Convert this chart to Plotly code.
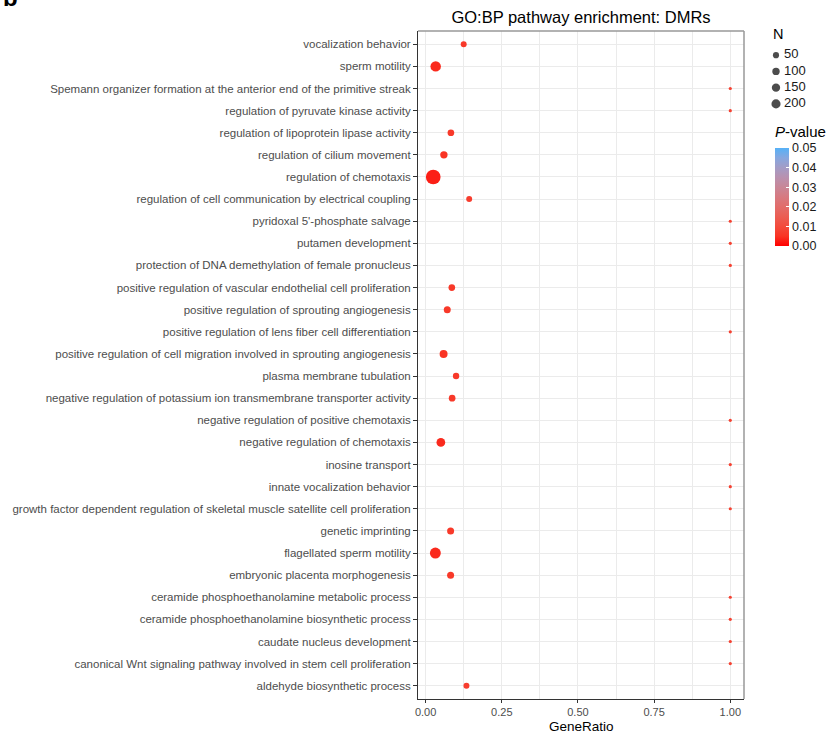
import numpy as np
import plotly.graph_objects as go

# GO:BP terms, listed top to bottom as they appear on the y axis
terms = [
    "vocalization behavior",
    "sperm motility",
    "Spemann organizer formation at the anterior end of the primitive streak",
    "regulation of pyruvate kinase activity",
    "regulation of lipoprotein lipase activity",
    "regulation of cilium movement",
    "regulation of chemotaxis",
    "regulation of cell communication by electrical coupling",
    "pyridoxal 5'-phosphate salvage",
    "putamen development",
    "protection of DNA demethylation of female pronucleus",
    "positive regulation of vascular endothelial cell proliferation",
    "positive regulation of sprouting angiogenesis",
    "positive regulation of lens fiber cell differentiation",
    "positive regulation of cell migration involved in sprouting angiogenesis",
    "plasma membrane tubulation",
    "negative regulation of potassium ion transmembrane transporter activity",
    "negative regulation of positive chemotaxis",
    "negative regulation of chemotaxis",
    "inosine transport",
    "innate vocalization behavior",
    "growth factor dependent regulation of skeletal muscle satellite cell proliferation",
    "genetic imprinting",
    "flagellated sperm motility",
    "embryonic placenta morphogenesis",
    "ceramide phosphoethanolamine metabolic process",
    "ceramide phosphoethanolamine biosynthetic process",
    "caudate nucleus development",
    "canonical Wnt signaling pathway involved in stem cell proliferation",
    "aldehyde biosynthetic process",
]

gene_ratio = [
    0.125, 0.033, 1.0, 1.0, 0.083, 0.060, 0.025, 0.143, 1.0, 1.0,
    1.0, 0.086, 0.071, 1.0, 0.059, 0.100, 0.087, 1.0, 0.050, 1.0,
    1.0, 1.0, 0.082, 0.032, 0.082, 1.0, 1.0, 1.0, 1.0, 0.134,
]

n_genes = [
    45, 300, 1, 1, 70, 100, 750, 45, 1, 1,
    1, 70, 83, 1, 131, 59, 70, 1, 172, 1,
    1, 1, 83, 340, 83, 1, 1, 1, 1, 45,
]

p_values = [
    0.006, 0.004, 0.008, 0.008, 0.006, 0.005, 0.003, 0.007, 0.008, 0.008,
    0.008, 0.006, 0.006, 0.008, 0.005, 0.006, 0.006, 0.008, 0.004, 0.008,
    0.008, 0.008, 0.006, 0.004, 0.006, 0.008, 0.008, 0.008, 0.008, 0.007,
]

size_breaks = [50, 100, 150, 200]
p_ticks = [0.00, 0.01, 0.02, 0.03, 0.04, 0.05]
x_ticks = [0.00, 0.25, 0.50, 0.75, 1.00]

FONT = "Liberation Sans, Arial, sans-serif"
W, H = 827, 733
ML, MR, MT, MB = 418, 0, 31, 34
PW, PH = W - ML - MR, H - MT - MB
PANEL_W = 326


def px_x(p):
    return (p - ML) / PW


def px_y(p):
    return 1 - (p - MT) / PH


def dot_size(n):
    # area-style size scale: diameter grows with sqrt of the count
    return 3.2 + 0.42 * np.sqrt(np.asarray(n, dtype=float) - 1)


# gradient from red to light blue interpolated in CIE Lab
_M = np.array([[0.4124, 0.3576, 0.1805], [0.2126, 0.7152, 0.0722], [0.0193, 0.1192, 0.9505]])
_WHITE = np.array([0.95047, 1.0, 1.08883])


def hex_to_lab(h):
    rgb = np.array([int(h[i:i + 2], 16) for i in (1, 3, 5)]) / 255
    lin = np.where(rgb <= 0.04045, rgb / 12.92, ((rgb + 0.055) / 1.055) ** 2.4)
    xyz = _M @ lin / _WHITE
    f = np.where(xyz > 0.008856, np.cbrt(xyz), 7.787 * xyz + 16 / 116)
    return np.array([116 * f[1] - 16, 500 * (f[0] - f[1]), 200 * (f[1] - f[2])])


def lab_to_rgb(lab):
    L, a, b = lab
    fy = (L + 16) / 116
    fx = fy + a / 500
    fz = fy - b / 200
    f = np.array([fx, fy, fz])
    xyz = np.where(f ** 3 > 0.008856, f ** 3, (f - 16 / 116) / 7.787) * _WHITE
    lin = np.linalg.solve(_M, xyz)
    lin = np.clip(lin, 0, 1)
    rgb = np.where(lin <= 0.0031308, 12.92 * lin, 1.055 * lin ** (1 / 2.4) - 0.055)
    r, g, bb = (np.clip(rgb, 0, 1) * 255).round().astype(int)
    return f"rgb({r},{g},{bb})"


lo, hi = hex_to_lab("#FF0000"), hex_to_lab("#56B1F7")
colorscale = [[t, lab_to_rgb(lo + (hi - lo) * t)] for t in np.linspace(0, 1, 11)]

fig = go.Figure()

fig.add_trace(go.Scatter(
    x=gene_ratio, y=terms, mode="markers",
    marker=dict(
        size=dot_size(n_genes), sizemode="diameter",
        color=p_values, cmin=0, cmax=0.05, colorscale=colorscale,
        line=dict(width=0), opacity=1,
        colorbar=dict(
            thickness=14, thicknessmode="pixels",
            len=98, lenmode="pixels",
            x=px_x(775), xanchor="left", xpad=0,
            y=px_y(148), yanchor="top", ypad=0,
            outlinewidth=0,
            tickvals=p_ticks, ticktext=[f"{v:.2f}" for v in p_ticks],
            ticks="inside", ticklen=3, tickcolor="white", tickwidth=1,
            tickfont=dict(family=FONT, size=12.5, color="#1a1a1a"),
        ),
    ),
    showlegend=False, hoverinfo="x+y",
))

# size key for N
fig.add_trace(go.Scatter(
    x=[8] * len(size_breaks), y=[str(v) for v in size_breaks],
    mode="markers", marker=dict(size=dot_size(size_breaks), color="black", line=dict(width=0)),
    xaxis="x2", yaxis="y2", showlegend=False, hoverinfo="skip",
))
fig.add_trace(go.Scatter(
    x=[16] * len(size_breaks), y=[str(v) for v in size_breaks],
    mode="text", text=[str(v) for v in size_breaks], textposition="middle right",
    textfont=dict(family=FONT, size=13, color="#1a1a1a"),
    xaxis="x2", yaxis="y2", showlegend=False, hoverinfo="skip",
))

grid = "#ebebeb"
fig.update_layout(
    width=W, height=H,
    margin=dict(l=ML, r=MR, t=MT, b=MB),
    paper_bgcolor="white", plot_bgcolor="white",
    font=dict(family=FONT),
    title=dict(text="GO:BP pathway enrichment: DMRs", x=px_x(ML + PANEL_W / 2), xref="paper",
               xanchor="center", y=1 - 17 / H, yref="container", yanchor="middle",
               font=dict(family=FONT, size=16.5, color="black")),
    xaxis=dict(
        domain=[0, PANEL_W / PW], range=[-0.025, 1.045],
        tickvals=x_ticks, ticktext=[f"{v:.2f}" for v in x_ticks],
        ticks="outside", ticklen=3, tickcolor="#333333", tickwidth=1,
        tickfont=dict(family=FONT, size=11, color="#4d4d4d"),
        showgrid=True, gridcolor=grid, gridwidth=1,
        minor=dict(dtick=0.125, tick0=0, showgrid=True, gridcolor=grid, gridwidth=0.8, ticks=""),
        showline=True, linecolor="#333333", linewidth=1, zeroline=False,
        automargin=False, fixedrange=True,
    ),
    yaxis=dict(
        type="category", categoryorder="array", categoryarray=terms,
        range=[len(terms) - 1 + 0.6, -0.6],
        ticks="outside", ticklen=4, tickcolor="#333333", tickwidth=1,
        tickfont=dict(family=FONT, size=11.5, color="#4d4d4d"),
        showgrid=True, gridcolor=grid, gridwidth=1,
        showline=True, linecolor="#333333", linewidth=1, zeroline=False,
        automargin=False, fixedrange=True,
    ),
    xaxis2=dict(domain=[px_x(768), 1.0], range=[0, 59], visible=False, fixedrange=True),
    yaxis2=dict(domain=[px_y(112), px_y(47)], type="category",
                categoryorder="array", categoryarray=[str(v) for v in size_breaks],
                range=[len(size_breaks) - 0.5, -0.5], anchor="x2",
                visible=False, fixedrange=True),
    shapes=[
        dict(type="line", xref="paper", yref="paper", x0=0, x1=PANEL_W / PW, y0=1, y1=1,
             line=dict(color="#999999", width=1.5)),
        dict(type="line", xref="paper", yref="paper", x0=PANEL_W / PW, x1=PANEL_W / PW, y0=0, y1=1,
             line=dict(color="#999999", width=1.5)),
    ],
    annotations=[
        dict(text="GeneRatio", xref="paper", yref="paper", x=px_x(ML + PANEL_W / 2), y=px_y(726.5),
             xanchor="center", yanchor="middle", showarrow=False,
             font=dict(family=FONT, size=13.5, color="black")),
        dict(text="N", xref="paper", yref="paper", x=px_x(771), y=px_y(34),
             xanchor="left", yanchor="middle", showarrow=False,
             font=dict(family=FONT, size=14.5, color="black")),
        dict(text="<i>P</i>-value", xref="paper", yref="paper", x=px_x(773), y=px_y(132),
             xanchor="left", yanchor="middle", showarrow=False,
             font=dict(family=FONT, size=15, color="black")),
        dict(text="<b>b</b>", xref="paper", yref="paper", x=px_x(1), y=px_y(13),
             xanchor="left", yanchor="bottom", showarrow=False,
             font=dict(family=FONT, size=24, color="black")),
    ],
)

fig.write_html("out.html")
